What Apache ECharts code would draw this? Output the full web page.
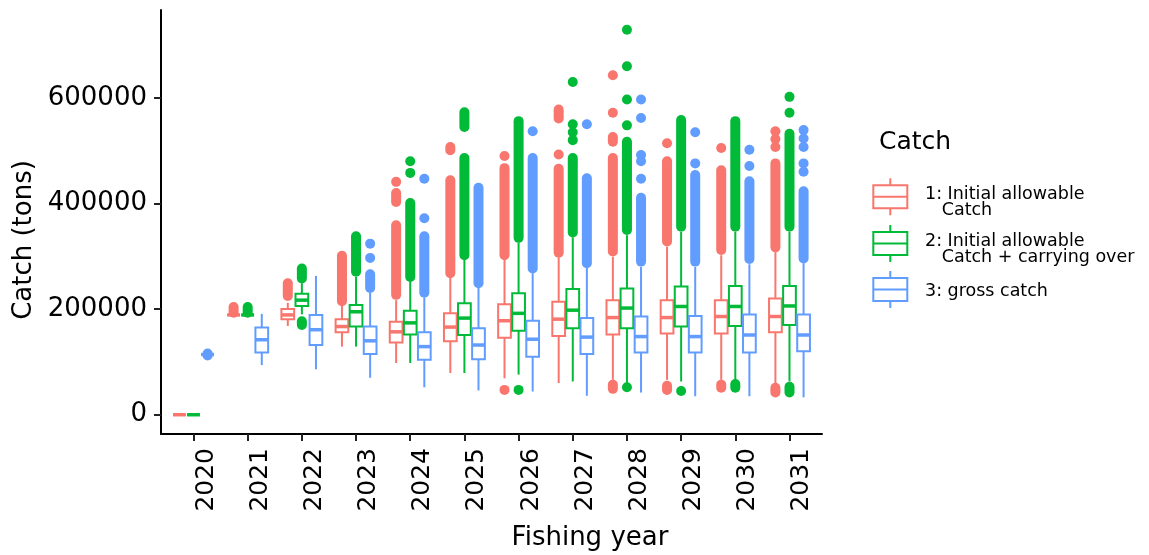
<!DOCTYPE html>
<html>
<head>
<meta charset="utf-8">
<script src="https://cdn.jsdelivr.net/npm/echarts@6/dist/echarts.min.js"></script>
<style>
  html, body { margin: 0; padding: 0; background: #fff; }
  #chart { width: 1149px; height: 555px; }
</style>
</head>
<body>
<div id="chart"></div>
<script>
// Fishing years on the x axis
const years = ['2020', '2021', '2022', '2023', '2024', '2025',
               '2026', '2027', '2028', '2029', '2030', '2031'];
const yTicks = [0, 200000, 400000, 600000];

// Box statistics per year: [lower whisker, Q1, median, Q3, upper whisker] (tons)
const iacStats = [
  [0, 0, 0, 0, 0],
  [189000, 189000, 189000, 189000, 189000],
  [168000, 181000, 189000, 200000, 212000],
  [129000, 156000, 167000, 181000, 206000],
  [98000, 137000, 157000, 176000, 217000],
  [79000, 139000, 166000, 192000, 259000],
  [69000, 146000, 178000, 209000, 293000],
  [60000, 149000, 181000, 214000, 298000],
  [66000, 152000, 184000, 217000, 299000],
  [66000, 154000, 184000, 217000, 318000],
  [66000, 154000, 186000, 217000, 302000],
  [60000, 156000, 186000, 220000, 308000]
];
const carryStats = [
  [0, 0, 0, 0, 0],
  [189000, 189000, 189000, 189000, 189000],
  [190000, 206000, 217000, 229000, 249000],
  [129000, 167000, 195000, 208000, 261000],
  [98000, 152000, 174000, 197000, 252000],
  [79000, 151000, 183000, 211000, 293000],
  [76000, 159000, 192000, 230000, 326000],
  [63000, 164000, 198000, 238000, 336000],
  [60000, 164000, 202000, 239000, 340000],
  [63000, 167000, 205000, 243000, 346000],
  [66000, 168000, 205000, 244000, 346000],
  [63000, 170000, 206000, 244000, 346000]
];
const grossStats = [
  [114000, 114000, 114000, 114000, 114000],
  [94000, 118000, 142000, 165000, 191000],
  [86000, 132000, 161000, 189000, 263000],
  [70000, 115000, 140000, 167000, 231000],
  [52000, 104000, 129000, 156000, 222000],
  [46000, 105000, 132000, 164000, 240000],
  [44000, 110000, 143000, 178000, 268000],
  [36000, 115000, 147000, 183000, 278000],
  [42000, 118000, 148000, 186000, 280000],
  [35000, 118000, 148000, 187000, 280000],
  [35000, 118000, 151000, 190000, 285000],
  [33000, 120000, 151000, 190000, 287000]
];

// Outliers per year: a single value, or [from, to] for a run of closely packed points (tons)
const iacOutliers = [
  [],
  [[193000, 204000]],
  [[225000, 249000]],
  [[215000, 301000]],
  [441000, [403000, 420000], [227000, 359000]],
  [[501000, 507000], [268000, 444000]],
  [47000, 490000, [302000, 467000]],
  [[561000, 578000], 493000, [307000, 466000]],
  [[49000, 57000], 643000, 572000, [517000, 526000], [309000, 486000]],
  [[47000, 55000], 514000, [328000, 480000]],
  [[51000, 57000], 505000, [312000, 463000]],
  [[42000, 51000], 537000, 522000, 507000, [317000, 476000]]
];
const carryOutliers = [
  [],
  [[193000, 204000]],
  [[170000, 177000], [258000, 277000]],
  [[271000, 338000]],
  [480000, 458000, [261000, 401000]],
  [[545000, 573000], [302000, 486000]],
  [47000, [335000, 556000]],
  [630000, 550000, 535000, 520000, [345000, 486000]],
  [52000, 729000, 660000, 597000, 548000, [350000, 517000]],
  [45000, [356000, 558000]],
  [[51000, 58000], [356000, 556000]],
  [[42000, 53000], 602000, 572000, [356000, 532000]]
];
const grossOutliers = [
  [[112000, 116000]],
  [],
  [],
  [324000, 297000, [240000, 266000]],
  [447000, 372000, [231000, 338000]],
  [[249000, 430000]],
  [537000, [277000, 486000]],
  [550000, [287000, 448000]],
  [597000, 562000, 492000, 480000, 447000, [290000, 411000]],
  [535000, 476000, [290000, 454000]],
  [502000, 471000, [295000, 442000]],
  [539000, 523000, 507000, 476000, 460000, [296000, 423000]]
];

const groups = [
  { name: '1: Initial allowable Catch', lines: ['1: Initial allowable', '   Catch'],
    color: '#F8766D', offset: -0.26, stats: iacStats, outliers: iacOutliers },
  { name: '2: Initial allowable Catch + carrying over', lines: ['2: Initial allowable', '   Catch + carrying over'],
    color: '#00BA38', offset: 0, stats: carryStats, outliers: carryOutliers },
  { name: '3: gross catch', lines: ['3: gross catch'],
    color: '#619CFF', offset: 0.26, stats: grossStats, outliers: grossOutliers }
];

const FONT = 'DejaVu Sans';
const BOX_WIDTH = 0.235;   // in category units
const POINT_R = 5;         // outlier radius, px

function boxRenderer(offset, color) {
  return function (params, api) {
    const x = api.value(0) + offset;
    const lo = api.coord([x, api.value(1)]);
    const q1 = api.coord([x, api.value(2)]);
    const md = api.coord([x, api.value(3)]);
    const q3 = api.coord([x, api.value(4)]);
    const hi = api.coord([x, api.value(5)]);
    const w = api.size([BOX_WIDTH, 0])[0];
    const cx = md[0];
    return {
      type: 'group',
      children: [
        { type: 'line', shape: { x1: cx, y1: hi[1], x2: cx, y2: q3[1] },
          style: { stroke: color, lineWidth: 2 } },
        { type: 'line', shape: { x1: cx, y1: q1[1], x2: cx, y2: lo[1] },
          style: { stroke: color, lineWidth: 2 } },
        { type: 'rect', shape: { x: cx - w / 2, y: q3[1], width: w, height: q1[1] - q3[1] },
          style: { fill: '#fff', stroke: color, lineWidth: 2 } },
        { type: 'line', shape: { x1: cx - w / 2, y1: md[1], x2: cx + w / 2, y2: md[1] },
          style: { stroke: color, lineWidth: 3.5 } }
      ]
    };
  };
}

function outlierRenderer(offset, color) {
  return function (params, api) {
    const x = api.value(0) + offset;
    const top = api.coord([x, api.value(2)]);
    const bottom = api.coord([x, api.value(1)]);
    return {
      type: 'rect',
      shape: { x: top[0] - POINT_R, y: top[1] - POINT_R, width: 2 * POINT_R,
               height: bottom[1] - top[1] + 2 * POINT_R, r: POINT_R },
      style: { fill: color }
    };
  };
}

const series = [];
groups.forEach(function (g) {
  const outData = [];
  g.outliers.forEach(function (list, i) {
    list.forEach(function (o) {
      if (Array.isArray(o)) outData.push([i + 1, o[0], o[1]]);
      else outData.push([i + 1, o, o]);
    });
  });
  series.push({
    name: g.name, type: 'custom', renderItem: outlierRenderer(g.offset, g.color),
    data: outData, encode: { x: 0, y: [1, 2] }, silent: true
  });
  series.push({
    name: g.name, type: 'custom', renderItem: boxRenderer(g.offset, g.color),
    data: g.stats.map(function (s, i) { return [i + 1].concat(s); }),
    encode: { x: 0, y: [1, 2, 3, 4, 5] }, silent: true
  });
});

// Legend drawn as box glyphs with labels
const legendGraphics = [
  { type: 'text', left: 879, top: 130,
    style: { text: 'Catch', font: '25px "' + FONT + '"', fill: '#000' } }
];
const keyCenters = [196.8, 243.5, 289.5];
groups.forEach(function (g, i) {
  const cy = keyCenters[i];
  const cx = 890.3;
  legendGraphics.push(
    { type: 'line', shape: { x1: cx, y1: cy - 18.5, x2: cx, y2: cy - 11.5 },
      style: { stroke: g.color, lineWidth: 2 } },
    { type: 'line', shape: { x1: cx, y1: cy + 11.5, x2: cx, y2: cy + 18.5 },
      style: { stroke: g.color, lineWidth: 2 } },
    { type: 'rect', shape: { x: cx - 17, y: cy - 11.5, width: 34, height: 23 },
      style: { fill: '#fff', stroke: g.color, lineWidth: 2 } },
    { type: 'line', shape: { x1: cx - 17, y1: cy, x2: cx + 17, y2: cy },
      style: { stroke: g.color, lineWidth: 2 } }
  );
  const lineYs = g.lines.length === 2 ? [cy - 2, cy + 14] : [cy + 1.5];
  g.lines.forEach(function (t, k) {
    legendGraphics.push({
      type: 'text', x: 925, y: lineYs[k],
      style: { text: t, font: '17.5px "' + FONT + '"', fill: '#000',
               textAlign: 'left', textVerticalAlign: 'middle' }
    });
  });
});

const chart = echarts.init(document.getElementById('chart'));
chart.setOption({
  animation: false,
  backgroundColor: '#fff',
  grid: { left: 161, right: 327, top: 10, bottom: 121, containLabel: false },
  xAxis: {
    type: 'value', min: 0.4, max: 12.6,
    axisLine: { show: true, onZero: false, lineStyle: { color: '#000', width: 2 } },
    axisTick: { show: true, length: 7, customValues: years.map(function (y, i) { return i + 1; }),
                lineStyle: { color: '#222', width: 2 } },
    axisLabel: {
      customValues: years.map(function (y, i) { return i + 1; }),
      formatter: function (v) { return years[Math.round(v) - 1]; },
      rotate: 90, margin: 14, verticalAlign: 'top',
      fontFamily: FONT, fontSize: 25, color: '#000'
    },
    splitLine: { show: false }
  },
  yAxis: {
    type: 'value', min: -36500, max: 766500,
    axisLine: { show: true, lineStyle: { color: '#000', width: 2 } },
    axisTick: { show: true, length: 7, customValues: yTicks, lineStyle: { color: '#222', width: 2 } },
    axisLabel: {
      customValues: yTicks,
      formatter: function (v) { return String(v); },
      margin: 14, fontFamily: FONT, fontSize: 26, color: '#000'
    },
    splitLine: { show: false }
  },
  graphic: [
    { type: 'text', x: 24, y: 240, rotation: Math.PI / 2,
      style: { text: 'Catch (tons)', font: '26px "' + FONT + '"', fill: '#000',
               textAlign: 'center', textVerticalAlign: 'middle' } },
    { type: 'text', x: 590, y: 538,
      style: { text: 'Fishing year', font: '26px "' + FONT + '"', fill: '#000',
               textAlign: 'center', textVerticalAlign: 'middle' } }
  ].concat(legendGraphics),
  series: series
});
</script>
</body>
</html>
